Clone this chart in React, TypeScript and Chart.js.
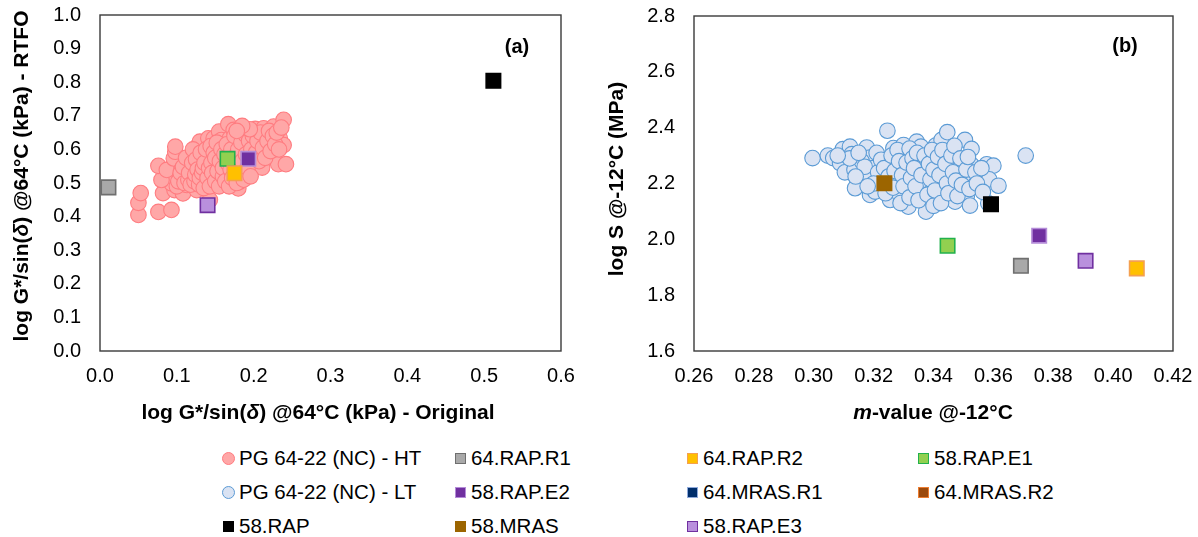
import React, { useEffect, useRef } from 'react';
import { Chart, registerables } from 'chart.js';

Chart.register(...registerables);

const FONT = '"Liberation Sans", Arial, Helvetica, sans-serif';

// ---------- Panel (a): PG 64-22 (NC) - HT points [original, RTFO] ----------
const htPoints: [number, number][] = [
  [0.050, 0.405], [0.050, 0.441], [0.053, 0.470], [0.076, 0.414], [0.093, 0.420],
  [0.082, 0.470], [0.097, 0.479], [0.108, 0.469], [0.093, 0.499], [0.080, 0.509],
  [0.076, 0.551], [0.087, 0.539], [0.096, 0.573], [0.098, 0.593], [0.098, 0.608],
  [0.104, 0.519], [0.106, 0.539], [0.113, 0.559], [0.113, 0.494], [0.119, 0.583],
  [0.119, 0.519], [0.122, 0.544], [0.126, 0.479], [0.128, 0.613], [0.130, 0.623],
  [0.132, 0.559], [0.137, 0.504], [0.139, 0.534], [0.141, 0.573], [0.141, 0.633],
  [0.143, 0.450], [0.148, 0.633], [0.148, 0.519], [0.152, 0.554], [0.155, 0.653],
  [0.156, 0.504], [0.158, 0.628], [0.165, 0.534], [0.167, 0.675], [0.169, 0.633],
  [0.174, 0.658], [0.180, 0.633], [0.180, 0.484], [0.182, 0.504], [0.188, 0.661],
  [0.193, 0.603], [0.200, 0.578], [0.202, 0.661], [0.202, 0.554], [0.208, 0.613],
  [0.211, 0.546], [0.213, 0.663], [0.213, 0.593], [0.217, 0.643], [0.224, 0.613],
  [0.226, 0.668], [0.232, 0.556], [0.234, 0.633], [0.239, 0.688], [0.239, 0.613],
  [0.242, 0.556], [0.100, 0.490], [0.102, 0.505], [0.105, 0.530], [0.108, 0.548],
  [0.110, 0.500], [0.112, 0.575], [0.115, 0.510], [0.116, 0.530], [0.118, 0.495],
  [0.120, 0.560], [0.121, 0.600], [0.123, 0.505], [0.124, 0.525], [0.125, 0.570],
  [0.127, 0.540], [0.129, 0.495], [0.130, 0.515], [0.131, 0.590], [0.133, 0.530],
  [0.134, 0.545], [0.135, 0.485], [0.136, 0.560], [0.138, 0.600], [0.140, 0.515],
  [0.142, 0.545], [0.143, 0.490], [0.144, 0.610], [0.145, 0.560], [0.146, 0.530],
  [0.148, 0.590], [0.150, 0.505], [0.150, 0.575], [0.152, 0.620], [0.153, 0.535],
  [0.155, 0.490], [0.156, 0.565], [0.158, 0.600], [0.160, 0.520], [0.160, 0.545],
  [0.162, 0.585], [0.163, 0.505], [0.165, 0.615], [0.166, 0.560], [0.168, 0.490],
  [0.170, 0.540], [0.171, 0.600], [0.172, 0.515], [0.174, 0.575], [0.175, 0.640],
  [0.177, 0.555], [0.178, 0.500], [0.180, 0.600], [0.182, 0.535], [0.184, 0.620],
  [0.185, 0.565], [0.187, 0.510], [0.189, 0.645], [0.190, 0.585], [0.192, 0.545],
  [0.194, 0.625], [0.196, 0.520], [0.197, 0.600], [0.199, 0.640], [0.203, 0.590],
  [0.205, 0.625], [0.207, 0.565], [0.209, 0.650], [0.212, 0.605], [0.215, 0.575],
  [0.218, 0.625], [0.220, 0.655], [0.222, 0.595], [0.225, 0.640], [0.228, 0.615],
  [0.230, 0.650], [0.233, 0.600], [0.236, 0.665], [0.195, 0.660], [0.185, 0.670],
  [0.178, 0.655],
];

// Panel (a) binder squares
const squareNamesA = ['64.RAP.R1', '64.RAP.R2', '58.RAP.E1', '58.RAP.E2', '58.RAP', '58.RAP.E3'];
const squareXA = [0.011, 0.175, 0.166, 0.193, 0.512, 0.140];
const squareYA = [0.487, 0.529, 0.572, 0.572, 0.804, 0.434];

// ---------- Panel (b): PG 64-22 (NC) - LT points [m-value, log S] ----------
const ltPoints: [number, number][] = [
  [0.2996, 2.291], [0.3047, 2.300], [0.3065, 2.291], [0.3097, 2.323], [0.3121, 2.332],
  [0.3127, 2.305], [0.3088, 2.273], [0.3104, 2.240], [0.3136, 2.249], [0.3177, 2.329],
  [0.3188, 2.293], [0.3197, 2.255], [0.3157, 2.209], [0.3138, 2.183], [0.3188, 2.225],
  [0.3188, 2.159], [0.3205, 2.171], [0.3246, 2.389], [0.3266, 2.327], [0.3300, 2.338],
  [0.3305, 2.309], [0.3277, 2.267], [0.3310, 2.245], [0.3255, 2.141], [0.3288, 2.159],
  [0.3316, 2.117], [0.3288, 2.207], [0.3344, 2.350], [0.3358, 2.332], [0.3366, 2.279],
  [0.3377, 2.245], [0.3355, 2.207], [0.3338, 2.171], [0.3366, 2.135], [0.3375, 2.099],
  [0.3407, 2.336], [0.3427, 2.356], [0.3446, 2.384], [0.3433, 2.291], [0.3427, 2.255],
  [0.3410, 2.189], [0.3438, 2.147], [0.3455, 2.207], [0.3472, 2.135], [0.3477, 2.177],
  [0.3500, 2.231], [0.3488, 2.267], [0.3505, 2.356], [0.3527, 2.324], [0.3527, 2.267],
  [0.3511, 2.153], [0.3522, 2.121], [0.3555, 2.219], [0.3578, 2.269], [0.3600, 2.264],
  [0.3586, 2.215], [0.3617, 2.192], [0.3583, 2.129], [0.3708, 2.300],
  [0.3160, 2.280], [0.3170, 2.260], [0.3210, 2.310], [0.3215, 2.240], [0.3225, 2.285],
  [0.3230, 2.200], [0.3235, 2.255], [0.3240, 2.165], [0.3250, 2.225], [0.3260, 2.300],
  [0.3265, 2.185], [0.3270, 2.245], [0.3280, 2.320], [0.3285, 2.280], [0.3290, 2.130],
  [0.3295, 2.230], [0.3300, 2.190], [0.3310, 2.275], [0.3320, 2.325], [0.3320, 2.150],
  [0.3325, 2.220], [0.3330, 2.290], [0.3335, 2.255], [0.3340, 2.190], [0.3345, 2.310],
  [0.3350, 2.140], [0.3360, 2.230], [0.3370, 2.300], [0.3380, 2.160], [0.3385, 2.270],
  [0.3390, 2.215], [0.3395, 2.320], [0.3400, 2.120], [0.3400, 2.250], [0.3405, 2.175],
  [0.3415, 2.295], [0.3420, 2.230], [0.3425, 2.130], [0.3430, 2.320], [0.3440, 2.270],
  [0.3445, 2.200], [0.3450, 2.165], [0.3460, 2.300], [0.3465, 2.240], [0.3470, 2.335],
  [0.3475, 2.210], [0.3480, 2.155], [0.3490, 2.290], [0.3495, 2.195], [0.3510, 2.250],
  [0.3515, 2.295], [0.3520, 2.180], [0.3540, 2.240], [0.3545, 2.200], [0.3560, 2.255],
  [0.3565, 2.170], [0.3120, 2.290], [0.3150, 2.310], [0.3140, 2.225], [0.3080, 2.300],
  [0.3200, 2.200], [0.3180, 2.190],
];

// Panel (b) binder squares
const squareNamesB = ['64.RAP.R1', '64.RAP.R2', '58.RAP.E1', '58.RAP.E2', '58.RAP', '58.MRAS', '58.RAP.E3'];
const squareXB = [0.3692, 0.4079, 0.3447, 0.3753, 0.3592, 0.3236, 0.3908];
const squareYB = [1.905, 1.896, 1.977, 2.013, 2.126, 2.201, 1.923];

// Legend order (row-major, 4 columns)
const legendNames = [
  'PG 64-22 (NC) - HT', '64.RAP.R1', '64.RAP.R2', '58.RAP.E1',
  'PG 64-22 (NC) - LT', '58.RAP.E2', '64.MRAS.R1', '64.MRAS.R2',
  '58.RAP', '58.MRAS', '58.RAP.E3',
];

// Axis tick ranges
const xTicksA = { min: 0, max: 0.6, step: 0.1, digits: 1 };
const yTicksA = { min: 0, max: 1.0, step: 0.1, digits: 1 };
const xTicksB = { min: 0.26, max: 0.42, step: 0.02, digits: 2 };
const yTicksB = { min: 1.6, max: 2.8, step: 0.2, digits: 1 };

// ---------- styles ----------
type Sty = { fill: string; stroke: string; circle?: boolean };
const STYLES: Record<string, Sty> = {
  'PG 64-22 (NC) - HT': { fill: '#FFA7A7', stroke: '#FF7C80', circle: true },
  'PG 64-22 (NC) - LT': { fill: '#DAE3F3', stroke: '#5B9BD5', circle: true },
  '64.RAP.R1': { fill: '#A9A9A9', stroke: '#6F6F6F' },
  '64.RAP.R2': { fill: '#FFC000', stroke: '#F4A050' },
  '58.RAP.E1': { fill: '#92D050', stroke: '#22B14C' },
  '58.RAP.E2': { fill: '#7030A0', stroke: '#B48CD8' },
  '64.MRAS.R1': { fill: '#002F6C', stroke: '#8FAADC' },
  '64.MRAS.R2': { fill: '#9C4A0C', stroke: '#ED7D31' },
  '58.RAP': { fill: '#000000', stroke: '#000000' },
  '58.MRAS': { fill: '#9C6500', stroke: '#9C6500' },
  '58.RAP.E3': { fill: '#B990DD', stroke: '#7030A0' },
};

type Seg = { t: string; i?: boolean };
const TITLE_SIZE = 21;

function drawRich(ctx: CanvasRenderingContext2D, segs: Seg[], x: number, y: number, rot: number, size: number) {
  ctx.save();
  ctx.translate(x, y);
  ctx.rotate(rot);
  ctx.fillStyle = '#000';
  ctx.textBaseline = 'middle';
  ctx.textAlign = 'left';
  const fonts = segs.map((s) => `${s.i ? 'italic ' : ''}bold ${size}px ${FONT}`);
  let total = 0;
  const widths = segs.map((s, k) => {
    ctx.font = fonts[k];
    const w = ctx.measureText(s.t).width;
    total += w;
    return w;
  });
  let cx = -total / 2;
  segs.forEach((s, k) => {
    ctx.font = fonts[k];
    ctx.fillText(s.t, cx, 0);
    cx += widths[k];
  });
  ctx.restore();
}

const decorPlugin = {
  id: 'decor',
  beforeDatasetsDraw(chart: any) {
    const { ctx, chartArea: ca } = chart;
    ctx.save();
    ctx.strokeStyle = '#3A3A3A';
    ctx.lineWidth = 1.4;
    ctx.strokeRect(ca.left, ca.top, ca.right - ca.left, ca.bottom - ca.top);
    ctx.restore();
  },
  afterDraw(chart: any, _a: any, opts: any) {
    const { ctx, chartArea: ca } = chart;
    drawRich(ctx, opts.xTitle, opts.xTitleCX, opts.xTitleY, 0, TITLE_SIZE);
    drawRich(ctx, opts.yTitle, opts.yTitleX, opts.yTitleCY, -Math.PI / 2, TITLE_SIZE);
    drawRich(ctx, [{ t: opts.panel }], ca.right + opts.panelDX, ca.top + opts.panelDY, 0, 20);
  },
};

function tickAxis(r: { min: number; max: number; step: number; digits: number }, fit: (s: any) => void, pad: number) {
  return {
    type: 'linear' as const,
    min: r.min,
    max: r.max,
    afterFit: (s: any) => {
      fit(s);
      s.paddingTop = 0;
      s.paddingBottom = 0;
      s.paddingLeft = 0;
      s.paddingRight = 0;
    },
    grid: { display: false, drawTicks: false },
    border: { display: false },
    ticks: {
      stepSize: r.step,
      padding: pad,
      color: '#000',
      font: { family: FONT, size: 20 },
      callback: (v: any) => Number(v).toFixed(r.digits),
    },
  };
}

function buildDatasets(circleName: string, pts: [number, number][], names: string[], xs: number[], ys: number[]) {
  const cs = STYLES[circleName];
  const ds: any[] = [
    {
      label: circleName,
      data: pts.map(([x, y]) => ({ x, y })),
      pointStyle: 'circle',
      pointRadius: 7.8,
      borderWidth: 1.1,
      backgroundColor: cs.fill,
      borderColor: cs.stroke,
      order: 2,
    },
  ];
  names.forEach((n, k) => {
    const s = STYLES[n];
    ds.push({
      label: n,
      data: [{ x: xs[k], y: ys[k] }],
      pointStyle: 'rect',
      pointRadius: 10.2,
      borderWidth: 1.6,
      backgroundColor: s.fill,
      borderColor: s.stroke,
      order: 1,
    });
  });
  return ds;
}

function makeChart(canvas: HTMLCanvasElement, panel: 'a' | 'b') {
  const isA = panel === 'a';
  const datasets = isA
    ? buildDatasets('PG 64-22 (NC) - HT', htPoints, squareNamesA, squareXA, squareYA)
    : buildDatasets('PG 64-22 (NC) - LT', ltPoints, squareNamesB, squareXB, squareYB);
  const yWidth = isA ? 100 : 94;
  const xHeight = 79;
  return new Chart(canvas, {
    type: 'scatter',
    data: { datasets },
    plugins: [decorPlugin],
    options: {
      responsive: false,
      animation: false,
      events: [],
      layout: { padding: isA ? { left: 0, top: 15, right: 29, bottom: 0 } : { left: 0, top: 16, right: 25, bottom: 0 } },
      scales: {
        x: tickAxis(isA ? xTicksA : xTicksB, (s: any) => { s.height = xHeight; }, 13),
        y: tickAxis(isA ? yTicksA : yTicksB, (s: any) => { s.width = yWidth; }, 19),
      },
      plugins: {
        legend: { display: false },
        tooltip: { enabled: false },
        decor: isA
          ? {
              xTitle: [{ t: 'log G*/sin(' }, { t: 'δ', i: true }, { t: ') @64°C (kPa) - Original' }],
              xTitleCX: 318,
              xTitleY: 413,
              yTitle: [{ t: 'log G*/sin(' }, { t: 'δ', i: true }, { t: ') @64°C (kPa) - RTFO' }],
              yTitleX: 22,
              yTitleCY: 176,
              panel: '(a)',
              panelDX: -44,
              panelDY: 32,
            }
          : {
              xTitle: [{ t: 'm', i: true }, { t: '-value @-12°C' }],
              xTitleCX: 333,
              xTitleY: 413,
              yTitle: [{ t: 'log S @-12°C (MPa)' }],
              yTitleX: 17,
              yTitleCY: 179,
              panel: '(b)',
              panelDX: -48,
              panelDY: 30,
            },
      } as any,
    },
  });
}

const colX = [228, 460, 692, 923];
const rowY = [458, 492, 526];

function LegendMarker({ name }: { name: string }) {
  const s = STYLES[name];
  if (s.circle) {
    return (
      <span
        style={{
          position: 'absolute', left: -6.5, top: -6.5, width: 11, height: 11, borderRadius: '50%',
          background: s.fill, border: `1px solid ${s.stroke}`,
        }}
      />
    );
  }
  return (
    <span
      style={{
        position: 'absolute', left: -5.5, top: -5.5, width: 9, height: 9,
        background: s.fill, border: `1.5px solid ${s.stroke}`,
      }}
    />
  );
}

export default function App() {
  const refA = useRef<HTMLCanvasElement>(null);
  const refB = useRef<HTMLCanvasElement>(null);
  useEffect(() => {
    const a = makeChart(refA.current!, 'a');
    const b = makeChart(refB.current!, 'b');
    return () => { a.destroy(); b.destroy(); };
  }, []);
  return (
    <div style={{ position: 'fixed', left: 0, top: 0, width: 1198, height: 537, background: '#fff', overflow: 'hidden' }}>
      <canvas ref={refA} width={590} height={430} style={{ position: 'absolute', left: 0, top: 0, width: 590, height: 430 }} />
      <canvas ref={refB} width={598} height={430} style={{ position: 'absolute', left: 600, top: 0, width: 598, height: 430 }} />
      {legendNames.map((n, k) => {
        const cx = colX[k % 4];
        const cy = rowY[Math.floor(k / 4)];
        return (
          <div key={n} style={{ position: 'absolute', left: cx, top: cy, width: 0, height: 0 }}>
            <LegendMarker name={n} />
            <span
              style={{
                position: 'absolute', left: 11, top: -12, height: 24, lineHeight: '24px', whiteSpace: 'nowrap',
                fontFamily: FONT, fontSize: 20.5, color: '#000',
              }}
            >
              {n}
            </span>
          </div>
        );
      })}
    </div>
  );
}
